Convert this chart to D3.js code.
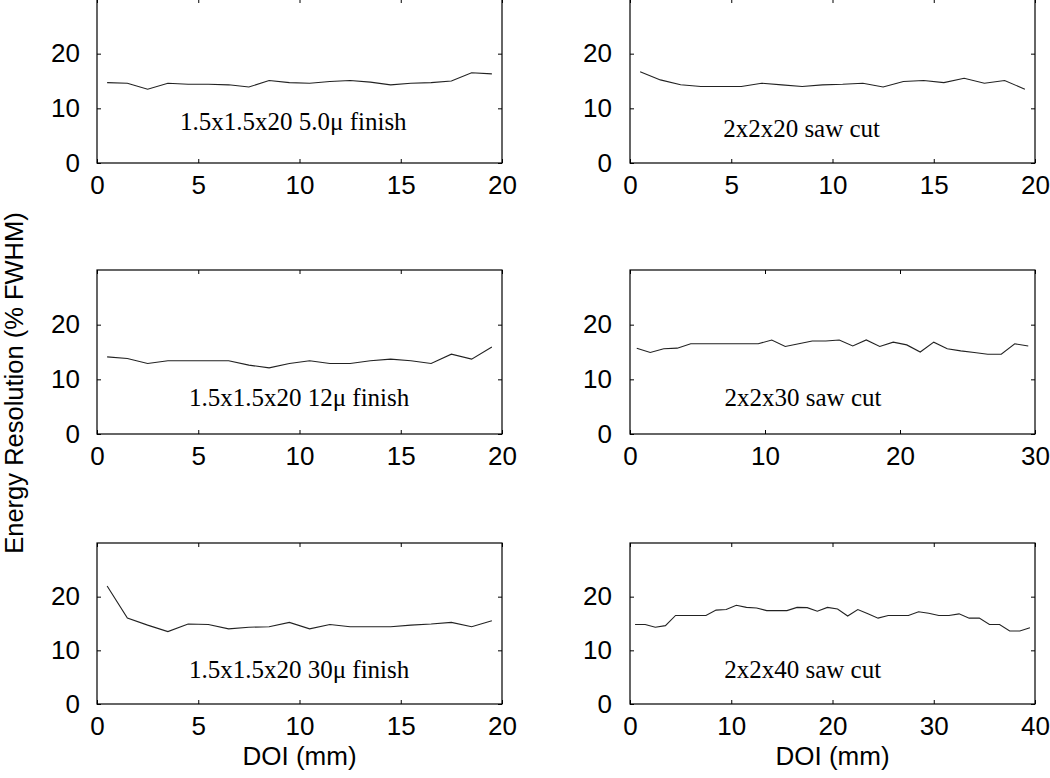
<!DOCTYPE html>
<html>
<head>
<meta charset="utf-8">
<script src="https://cdn.jsdelivr.net/npm/d3@7"></script>
<style>
  body { margin: 0; background: #fff; }
  svg { display: block; }
</style>
</head>
<body>
<svg id="chart" width="1050" height="778"></svg>
<script>
// ---------- data ----------
const doi20 = [0.5,1.5,2.5,3.5,4.5,5.5,6.5,7.5,8.5,9.5,10.5,11.5,12.5,13.5,14.5,15.5,16.5,17.5,18.5,19.5];
const doi30 = [0.5,1.5,2.5,3.5,4.5,5.5,6.5,7.5,8.5,9.5,10.5,11.5,12.5,13.5,14.5,15.5,16.5,17.5,18.5,19.5,
               20.5,21.5,22.5,23.5,24.5,25.5,26.5,27.5,28.5,29.5];
const doi40 = [0.5,1.5,2.5,3.5,4.5,5.5,6.5,7.5,8.5,9.5,10.5,11.5,12.5,13.5,14.5,15.5,16.5,17.5,18.5,19.5,
               20.5,21.5,22.5,23.5,24.5,25.5,26.5,27.5,28.5,29.5,30.5,31.5,32.5,33.5,34.5,35.5,36.5,37.5,38.5,39.5];

const res_15_5u  = [14.7,14.6,13.5,14.6,14.4,14.4,14.3,13.9,15.1,14.7,14.6,14.9,15.1,14.8,14.3,14.6,14.7,15.0,16.5,16.3];
const res_2x20   = [16.7,15.2,14.3,14.0,14.0,14.0,14.6,14.3,14.0,14.3,14.4,14.6,13.9,14.9,15.1,14.7,15.5,14.6,15.1,13.5];
const res_15_12u = [14.1,13.8,12.9,13.4,13.4,13.4,13.4,12.6,12.1,12.9,13.4,12.9,12.9,13.4,13.7,13.4,12.9,14.6,13.7,15.9];
const res_2x30   = [15.7,14.9,15.6,15.7,16.5,16.5,16.5,16.5,16.5,16.5,17.2,16.0,16.5,17.0,17.0,17.2,16.1,17.2,16.0,16.8,
                    16.3,15.0,16.8,15.6,15.2,14.9,14.6,14.6,16.5,16.1];
const res_15_30u = [22.0,16.0,14.7,13.5,14.9,14.8,14.0,14.3,14.4,15.2,14.0,14.8,14.4,14.4,14.4,14.7,14.9,15.2,14.4,15.5];
const res_2x40   = [14.8,14.8,14.3,14.6,16.5,16.5,16.5,16.5,17.5,17.6,18.4,18.0,17.9,17.4,17.4,17.4,18.0,17.95,17.3,18.0,
                    17.7,16.4,17.6,16.8,16.0,16.5,16.5,16.5,17.2,16.9,16.5,16.5,16.8,16.0,16.0,14.8,14.8,13.6,13.6,14.2];

const labels = ["1.5x1.5x20 5.0\u03bc finish", "2x2x20 saw cut",
                "1.5x1.5x20 12\u03bc finish",  "2x2x30 saw cut",
                "1.5x1.5x20 30\u03bc finish",  "2x2x40 saw cut"];
const xMax = [20, 20, 20, 30, 20, 40];
const xTicks = [[0,5,10,15,20],[0,5,10,15,20],[0,5,10,15,20],[0,10,20,30],[0,5,10,15,20],[0,10,20,30,40]];
const yTicks = [0, 10, 20];
const yMax = 30;
const xLabel = "DOI (mm)";
const yLabel = "Energy Resolution (% FWHM)";

const series = [
  {x: doi20, y: res_15_5u},
  {x: doi20, y: res_2x20},
  {x: doi20, y: res_15_12u},
  {x: doi30, y: res_2x30},
  {x: doi20, y: res_15_30u},
  {x: doi40, y: res_2x40}
];

// ---------- layout ----------
const cols = [{l: 97, r: 502}, {l: 630, r: 1035}];
const rows = [{t: -1, b: 163}, {t: 270, b: 434}, {t: 543, b: 704}];
// annotation anchor in data coordinates
const annPos = [[4.1, 6.0], [4.6, 4.75], [4.54, 5.1], [7.0, 5.1], [4.54, 4.85], [9.3, 4.85]];

const svg = d3.select("#chart");
svg.append("rect").attr("width", 1050).attr("height", 778).attr("fill", "#fff");

const sans = "'Liberation Sans', Arial, Helvetica, sans-serif";
const serif = "'Liberation Serif', 'Times New Roman', Times, serif";
const fs = 26;

series.forEach((s, i) => {
  const c = cols[i % 2], r = rows[Math.floor(i / 2)];
  const x = d3.scaleLinear().domain([0, xMax[i]]).range([c.l, c.r]);
  const y = d3.scaleLinear().domain([0, yMax]).range([r.b, r.t]);
  const g = svg.append("g");

  g.append("g").attr("transform", `translate(0,${r.b})`)
    .call(d3.axisBottom(x).tickValues(xTicks[i]).tickSizeInner(-4).tickSizeOuter(0).tickPadding(12.5));
  g.append("g").attr("transform", `translate(0,${r.t})`)
    .call(d3.axisTop(x).tickValues(xTicks[i]).tickSizeInner(-4).tickSizeOuter(0).tickFormat(""));
  g.append("g").attr("transform", `translate(${c.l},0)`)
    .call(d3.axisLeft(y).tickValues(yTicks).tickSizeInner(-4).tickSizeOuter(0).tickPadding(i % 2 ? 18 : 17));
  g.append("g").attr("transform", `translate(${c.r},0)`)
    .call(d3.axisRight(y).tickValues(yTicks).tickSizeInner(-4).tickSizeOuter(0).tickFormat(""));

  g.selectAll(".tick line").attr("stroke", "#000").attr("stroke-width", 1);
  g.selectAll(".domain").attr("stroke", "none");
  g.selectAll(".tick text").attr("font-family", sans).attr("font-size", fs).attr("fill", "#000");

  g.append("rect").attr("x", c.l).attr("y", r.t).attr("width", c.r - c.l).attr("height", r.b - r.t)
    .attr("fill", "none").attr("stroke", "#000").attr("stroke-width", 1.2);

  const pts = s.x.map((d, k) => [d, s.y[k]]);
  g.append("path").datum(pts)
    .attr("d", d3.line().x(d => x(d[0])).y(d => y(d[1])))
    .attr("fill", "none").attr("stroke", "#222").attr("stroke-width", 1.1);

  g.append("text").attr("x", x(annPos[i][0])).attr("y", y(annPos[i][1]))
    .attr("font-family", serif).attr("font-size", 25).attr("fill", "#000")
    .text(labels[i]);

  if (Math.floor(i / 2) === 2) {
    g.append("text").attr("x", (c.l + c.r) / 2).attr("y", 765)
      .attr("text-anchor", "middle").attr("font-family", sans).attr("font-size", fs)
      .text(xLabel);
  }
});

svg.append("text")
  .attr("transform", "translate(23,383) rotate(-90)")
  .attr("text-anchor", "middle").attr("font-family", sans).attr("font-size", 25.5)
  .text(yLabel);
</script>
</body>
</html>
